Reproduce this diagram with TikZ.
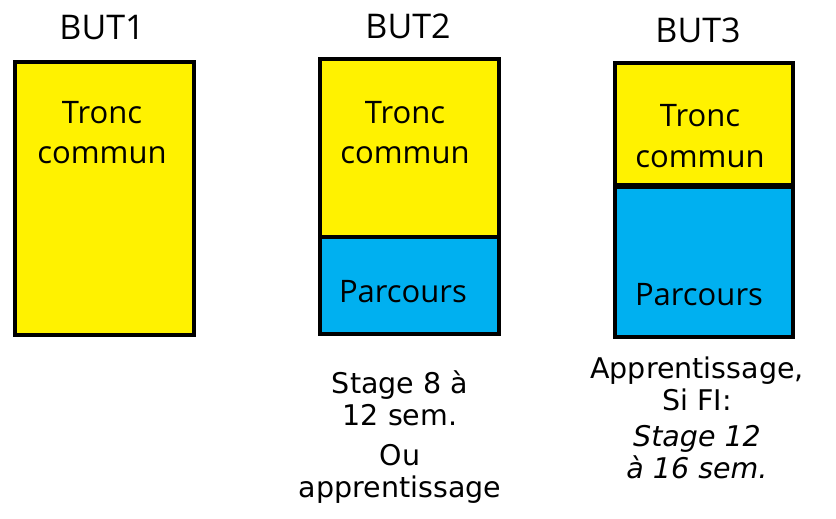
\documentclass[tikz,border=0pt]{standalone}
\usepackage{fontspec}
\setmainfont{Open Sans}
\newfontfamily\notefont{DejaVu Sans}
\usetikzlibrary{positioning}
\definecolor{parcblue}{HTML}{00B0F0}
\tikzset{
  block/.style={draw,line width=4pt,inner sep=0pt,anchor=north west},
  tronc/.style={block,fill=yellow},
  parcours/.style={block,fill=parcblue},
  year/.style={font=\fontsize{34}{40}\selectfont,anchor=base},
  inbox/.style={font=\fontsize{31}{40}\selectfont,align=center,anchor=base},
  note/.style={font=\notefont\fontsize{28.5}{32}\selectfont,align=center,anchor=base}
}
\begin{document}
\begin{tikzpicture}[x=1pt,y=-1pt]
  \useasboundingbox (0,0) rectangle (836,519);
  % BUT1
  \node[year] (but1) at (102,40) {BUT1};
  \node[tronc,minimum width=179pt,minimum height=273pt] (tc1) at (13,60) {};
  \node[inbox] (tc1txt) at (102,163) {Tronc\\commun};
  % BUT2
  \node[year] (but2) at (408,39) {BUT2};
  \node[tronc,minimum width=179pt,minimum height=178pt] (tc2) at (318,57) {};
  \node[parcours,minimum width=179pt,minimum height=97pt] (pc2) at (318,235) {};
  \node[inbox] (tc2txt) at (405,163) {Tronc\\commun};
  \node[inbox] (pc2txt) at (403,302) {Parcours};
  \node[note] (note2a) at (400,425) {Stage 8 à\\12 sem.};
  \node[note] (note2b) at (400,497) {Ou\\apprentissage};
  % BUT3
  \node[year] (but3) at (698,43) {BUT3};
  \node[tronc,minimum width=178pt,minimum height=122pt] (tc3) at (613,61) {};
  \node[parcours,minimum width=178pt,minimum height=150pt] (pc3) at (613,185) {};
  \node[inbox] (tc3txt) at (700,167) {Tronc\\commun};
  \node[inbox] (pc3txt) at (699,305) {Parcours};
  \node[note] (note3a) at (697,410) {Apprentissage,\\Si FI:};
  \node[note,font=\notefont\itshape\fontsize{28.5}{32}\selectfont] (note3b) at (697,478) {Stage 12\\à 16 sem.};
\end{tikzpicture}
\end{document}
